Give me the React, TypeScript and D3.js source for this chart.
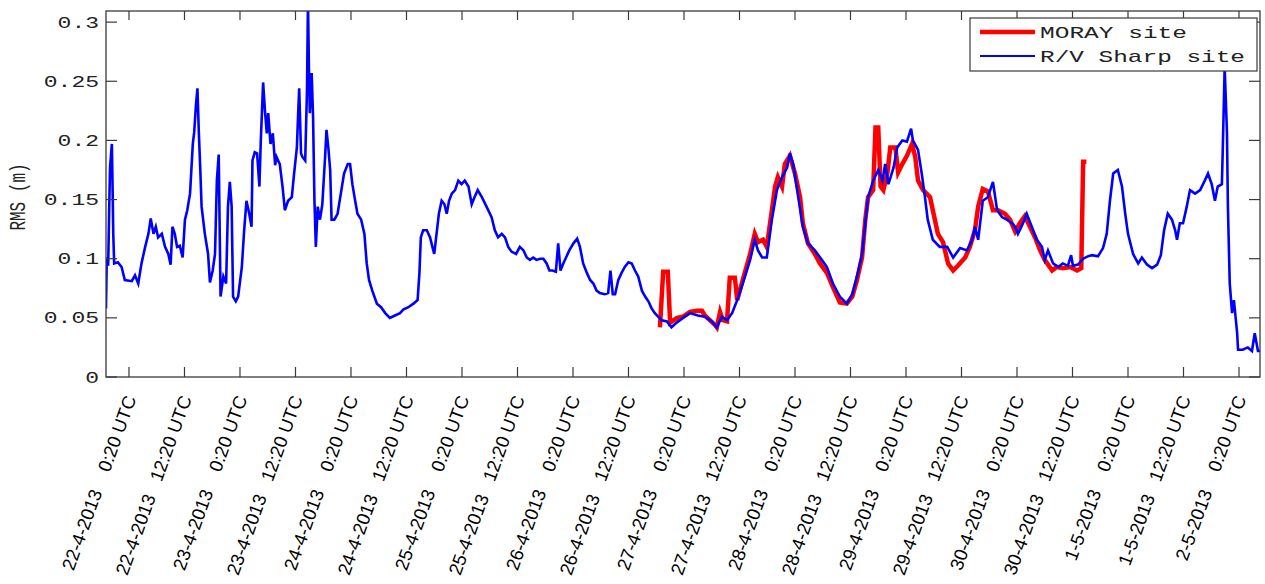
import React from "react";
import * as d3 from "d3";

// Hours relative to 22-4-2013 0:20 UTC
const sharpHours = [
  -4.97, -4.8, -4.5, -4.3, -4.1, -3.7, -3.5, -3.4, -3.2, -2.4, -1.6, -0.9, 0.6, 1.3, 2.0, 2.7, 3.5, 4.2, 4.7, 5.3,
  5.8, 6.3, 7.1, 7.8, 8.5, 9.0, 9.4, 9.9, 10.4, 11.0, 11.6, 12.1, 12.6, 13.2, 13.8, 14.1, 14.5, 14.8, 15.1, 15.4,
  15.7, 16.4, 17.1, 17.5, 18.1, 18.6, 19.0, 19.4, 19.8, 20.4, 21.0, 21.4, 21.8, 22.2, 22.5, 23.1, 23.6, 24.4, 24.9, 25.4,
  26.0, 26.5, 26.7, 27.2, 27.7, 28.2, 28.5, 29.0, 29.4, 29.8, 30.1, 30.6, 31.1, 31.6, 31.9, 32.6, 33.2, 33.7, 34.4, 35.2,
  35.7, 36.3, 36.6, 36.8, 37.2, 37.5, 38.1, 38.5, 38.7, 38.9, 39.1, 39.5, 39.8, 40.1, 40.4, 40.8, 41.3, 41.8, 42.4, 42.7,
  43.1, 43.5, 43.8, 44.4, 45.1, 45.8, 46.5, 47.3, 47.8, 48.3, 48.9, 49.4, 50.2, 50.9, 51.4, 51.9, 52.6, 53.6, 54.5, 55.4,
  56.4, 57.5, 58.6, 59.3, 60.4, 61.5, 62.4, 62.8, 63.1, 63.6, 64.4, 65.1, 65.6, 66.0, 66.5, 67.0, 67.6, 68.2, 68.7, 69.2,
  69.8, 70.5, 71.2, 71.9, 72.6, 73.4, 74.1, 74.7, 75.4, 76.3, 77.3, 78.4, 79.1, 79.8, 80.6, 81.3, 82.0, 82.7, 83.7, 84.5,
  85.3, 86.0, 86.7, 87.4, 88.1, 88.9, 89.6, 90.3, 90.9, 91.6, 92.3, 92.8, 93.3, 93.9, 94.5, 95.2, 96.1, 96.9, 97.5, 98.2,
  99.0, 99.7, 100.4, 101.1, 101.8, 102.9, 103.6, 104.1, 104.6, 105.1, 105.8, 106.5, 107.2, 108.0, 108.7, 109.4, 110.1, 110.9, 111.6, 112.3,
  113.0, 113.7, 114.4, 115.2, 116.3, 117.3, 118.4, 119.8, 121.3, 123.0, 124.5, 126.0, 127.1, 128.2, 129.3, 130.4, 131.5, 132.7, 134.3, 135.3,
  136.0, 136.9, 137.9, 139.0, 140.1, 141.2, 142.3, 142.9, 143.6, 144.7, 145.7, 146.8, 148.3, 149.8, 150.9, 152.2, 153.7, 155.2, 156.4, 157.4,
  158.5, 159.2, 159.8, 160.9, 162.0, 162.9, 163.5, 164.2, 165.3, 166.1, 167.2, 168.2, 169.1, 169.5, 170.6, 171.4, 172.1, 172.7, 173.8, 175.3,
  176.9, 178.2, 179.7, 181.2, 182.3, 182.9, 183.6, 184.6, 185.7, 186.8, 187.7, 188.8, 189.8, 190.9, 191.6, 192.2, 193.3, 194.1, 195.2, 196.3,
  197.4, 198.0, 198.7, 199.8, 200.9, 201.9, 203.0, 203.7, 204.1, 205.2, 206.3, 207.3, 208.2, 209.5, 210.6, 211.4, 212.1, 212.8, 213.8, 214.7,
  215.4, 216.0, 217.1, 218.2, 219.0, 220.1, 221.2, 222.3, 223.1, 223.8, 224.6, 225.5, 226.2, 226.6, 227.2, 227.9, 228.7, 229.4, 230.5, 231.6,
  232.6, 233.3, 234.1, 234.8, 235.4, 236.3, 236.5, 236.9, 237.4, 237.6, 238.0, 238.5, 238.9, 239.6, 239.8, 240.8, 241.9, 242.8, 243.4, 244.1,
  244.7,
];
const sharpValues = [
  0.058, 0.101, 0.094, 0.138, 0.177, 0.197, 0.149, 0.121, 0.096, 0.097, 0.093, 0.082, 0.081, 0.086, 0.079, 0.096, 0.110, 0.121, 0.134, 0.121,
  0.127, 0.118, 0.121, 0.110, 0.104, 0.095, 0.127, 0.121, 0.110, 0.111, 0.101, 0.133, 0.141, 0.155, 0.197, 0.207, 0.231, 0.244, 0.207, 0.177,
  0.144, 0.121, 0.104, 0.080, 0.090, 0.104, 0.166, 0.188, 0.068, 0.085, 0.079, 0.144, 0.165, 0.144, 0.068, 0.064, 0.068, 0.093, 0.124, 0.149,
  0.138, 0.127, 0.183, 0.190, 0.189, 0.161, 0.200, 0.249, 0.225, 0.206, 0.223, 0.197, 0.206, 0.179, 0.186, 0.180, 0.161, 0.141, 0.149, 0.152,
  0.172, 0.194, 0.225, 0.244, 0.189, 0.186, 0.183, 0.245, 0.318, 0.262, 0.223, 0.257, 0.220, 0.149, 0.110, 0.144, 0.133, 0.146, 0.186, 0.209,
  0.194, 0.175, 0.133, 0.133, 0.138, 0.155, 0.172, 0.180, 0.180, 0.163, 0.149, 0.138, 0.133, 0.121, 0.096, 0.082, 0.073, 0.062, 0.059, 0.054,
  0.050, 0.052, 0.054, 0.057, 0.059, 0.062, 0.065, 0.088, 0.118, 0.124, 0.124, 0.118, 0.110, 0.104, 0.121, 0.138, 0.149, 0.146, 0.138, 0.149,
  0.155, 0.158, 0.166, 0.163, 0.166, 0.161, 0.146, 0.152, 0.158, 0.152, 0.144, 0.135, 0.124, 0.118, 0.121, 0.118, 0.110, 0.106, 0.104, 0.110,
  0.107, 0.101, 0.099, 0.101, 0.099, 0.100, 0.100, 0.096, 0.090, 0.090, 0.089, 0.113, 0.090, 0.096, 0.101, 0.107, 0.113, 0.117, 0.110, 0.096,
  0.088, 0.082, 0.079, 0.073, 0.071, 0.070, 0.071, 0.090, 0.070, 0.070, 0.082, 0.088, 0.093, 0.097, 0.096, 0.090, 0.085, 0.073, 0.068, 0.064,
  0.058, 0.054, 0.051, 0.048, 0.047, 0.042, 0.046, 0.050, 0.054, 0.052, 0.051, 0.047, 0.042, 0.051, 0.048, 0.054, 0.065, 0.079, 0.099, 0.116,
  0.107, 0.101, 0.101, 0.133, 0.158, 0.169, 0.177, 0.189, 0.180, 0.152, 0.127, 0.113, 0.107, 0.099, 0.093, 0.079, 0.068, 0.062, 0.070, 0.085,
  0.104, 0.130, 0.152, 0.166, 0.175, 0.166, 0.180, 0.163, 0.177, 0.194, 0.200, 0.199, 0.210, 0.200, 0.192, 0.172, 0.152, 0.133, 0.116, 0.110,
  0.110, 0.101, 0.109, 0.107, 0.116, 0.127, 0.116, 0.149, 0.152, 0.165, 0.141, 0.135, 0.133, 0.130, 0.127, 0.121, 0.130, 0.138, 0.127, 0.116,
  0.110, 0.099, 0.107, 0.096, 0.093, 0.096, 0.094, 0.103, 0.094, 0.095, 0.100, 0.102, 0.103, 0.102, 0.109, 0.121, 0.149, 0.172, 0.175, 0.161,
  0.138, 0.121, 0.104, 0.096, 0.101, 0.095, 0.092, 0.095, 0.103, 0.124, 0.138, 0.133, 0.124, 0.116, 0.130, 0.130, 0.144, 0.158, 0.155, 0.158,
  0.166, 0.172, 0.163, 0.149, 0.161, 0.163, 0.194, 0.262, 0.206, 0.144, 0.079, 0.054, 0.065, 0.037, 0.023, 0.023, 0.025, 0.022, 0.037, 0.022,
  0.022,
];

const morayHours = [
  114.8, 115.5, 116.5, 117.0, 118.5, 119.8, 121.3, 122.8, 123.9, 124.5, 125.6, 126.7, 127.1, 127.8, 128.4, 129.3, 129.9, 131.0, 131.5, 132.7,
  134.3, 135.3, 136.0, 137.1, 137.9, 139.0, 139.7, 140.3, 141.2, 141.8, 142.9, 144.0, 145.1, 145.7, 146.8, 148.3, 149.4, 150.9, 152.2, 153.7,
  155.2, 156.4, 157.4, 158.5, 159.2, 159.8, 160.9, 161.4, 162.0, 162.5, 163.1, 164.0, 164.6, 165.7, 166.3, 167.2, 168.2, 169.3, 170.0, 170.6,
  171.7, 173.2, 173.8, 174.9, 176.0, 177.1, 178.2, 179.2, 180.8, 181.8, 182.9, 183.6, 184.6, 185.7, 186.8, 187.9, 189.4, 190.5, 191.6, 192.6,
  193.7, 194.8, 195.9, 197.0, 198.0, 199.6, 200.6, 201.9, 203.5, 205.0, 205.9, 206.3, 207.0,
];
const morayValues = [
  0.042, 0.089, 0.089, 0.046, 0.050, 0.051, 0.055, 0.056, 0.056, 0.052, 0.048, 0.044, 0.042, 0.055, 0.048, 0.047, 0.084, 0.084, 0.065, 0.082,
  0.104, 0.121, 0.114, 0.116, 0.110, 0.141, 0.161, 0.169, 0.161, 0.180, 0.187, 0.172, 0.152, 0.130, 0.113, 0.104, 0.096, 0.088, 0.076, 0.063,
  0.062, 0.068, 0.082, 0.101, 0.133, 0.152, 0.158, 0.211, 0.211, 0.161, 0.158, 0.173, 0.194, 0.194, 0.173, 0.180, 0.187, 0.197, 0.186, 0.166,
  0.158, 0.152, 0.141, 0.121, 0.114, 0.096, 0.090, 0.094, 0.101, 0.110, 0.124, 0.144, 0.159, 0.157, 0.141, 0.141, 0.138, 0.133, 0.123, 0.130,
  0.136, 0.127, 0.118, 0.107, 0.099, 0.090, 0.093, 0.092, 0.093, 0.090, 0.092, 0.182, 0.182,
];

const tickHours = [0, 12, 24, 36, 48, 60, 72, 84, 96, 108, 120, 132, 144, 156, 168, 180, 192, 204, 216, 228, 240];
const tickDates = [
  "22-4-2013", "22-4-2013", "23-4-2013", "23-4-2013", "24-4-2013", "24-4-2013", "25-4-2013", "25-4-2013",
  "26-4-2013", "26-4-2013", "27-4-2013", "27-4-2013", "28-4-2013", "28-4-2013", "29-4-2013", "29-4-2013",
  "30-4-2013", "30-4-2013", "1-5-2013", "1-5-2013", "2-5-2013",
];
const tickTimes = tickHours.map((h, i) => (i % 2 === 0 ? " 0:20 UTC" : "12:20 UTC"));

const yTicks = [0, 0.05, 0.1, 0.15, 0.2, 0.25, 0.3];
const yTickLabels = ["0", "0.05", "0.1", "0.15", "0.2", "0.25", "0.3"];

const seriesNames = ["MORAY site", "R/V Sharp site"];

export default function App() {
  const W = 1265, H = 584;
  const left = 106, right = 1260, top = 11, bottom = 377;
  const x = d3.scaleLinear().domain([-4.97, 244.54]).range([left, right]);
  const y = d3.scaleLinear().domain([0, 0.3094]).range([bottom, top]);
  const line = d3.line<[number, number]>().x((d) => x(d[0])).y((d) => y(d[1]));
  const sharp = line(sharpHours.map((h, i) => [h, sharpValues[i]] as [number, number])) || "";
  const moray = line(morayHours.map((h, i) => [h, morayValues[i]] as [number, number])) || "";
  const axisColor = "#3a3a3a";
  const mono = "'Liberation Mono', 'DejaVu Sans Mono', monospace";
  const sans = "'Liberation Sans', Arial, sans-serif";

  return (
    <svg width={W} height={H} style={{ position: "absolute", left: 0, top: 0, background: "#fff" }}>
      <defs>
        <clipPath id="plotclip">
          <rect x={left} y={top} width={right - left} height={bottom - top} />
        </clipPath>
      </defs>
      <rect x={0} y={0} width={W} height={H} fill="#fff" />
      <g clipPath="url(#plotclip)">
        <path d={moray} fill="none" stroke="#ff0000" strokeWidth={4.5} strokeLinejoin="miter" />
        <path d={sharp} fill="none" stroke="#0000ff" strokeWidth={2.6} strokeLinejoin="miter" />
      </g>
      {/* frame */}
      <rect x={left} y={top} width={right - left} height={bottom - top} fill="none" stroke={axisColor} strokeWidth={1.3} />
      {/* x ticks */}
      {tickHours.map((h, i) => (
        <g key={"xt" + i}>
          <line x1={x(h)} x2={x(h)} y1={bottom} y2={bottom - 10} stroke={axisColor} strokeWidth={1.2} />
          <line x1={x(h)} x2={x(h)} y1={top} y2={top + 9} stroke={axisColor} strokeWidth={1.2} />
        </g>
      ))}
      {/* y ticks */}
      {yTicks.map((v, i) => (
        <g key={"yt" + i}>
          <line x1={left} x2={left + 11} y1={y(v)} y2={y(v)} stroke={axisColor} strokeWidth={1.2} />
          <line x1={right} x2={right - 11} y1={y(v)} y2={y(v)} stroke={axisColor} strokeWidth={1.2} />
          <text
            x={99}
            y={y(v)}
            dy="0.35em"
            textAnchor="end"
            fontFamily={mono}
            fontSize={16}
            fill="#222"
            textLength={yTickLabels[i].length * 13.8}
            lengthAdjust="spacingAndGlyphs"
          >
            {yTickLabels[i]}
          </text>
        </g>
      ))}
      {/* x tick labels */}
      {tickHours.map((h, i) => (
        <text
          key={"xl" + i}
          transform={`translate(${x(h) - 5},${394}) rotate(-70)`}
          textAnchor="end"
          dy="0.72em"
          fontFamily={sans}
          fontSize={18.5}
          fill="#000"
          style={{ whiteSpace: "pre" }}
        >
          {tickDates[i] + "   " + tickTimes[i]}
        </text>
      ))}
      {/* y label */}
      <text
        transform={`translate(25,197) scale(1.4,1) rotate(-90)`}
        textAnchor="middle"
        fontFamily={mono}
        fontSize={16}
        fill="#222"
      >
        RMS (m)
      </text>
      {/* legend */}
      <g>
        <rect x={970} y={18} width={287} height={53} fill="#fff" stroke={axisColor} strokeWidth={1.2} />
        <line x1={980} x2={1035} y1={32} y2={32} stroke="#ff0000" strokeWidth={4.5} />
        <line x1={980} x2={1035} y1={56} y2={56} stroke="#0000ff" strokeWidth={2.2} />
        <text x={1040} y={38} fontFamily={mono} fontSize={17} fill="#222" textLength={147} lengthAdjust="spacingAndGlyphs">
          {seriesNames[0]}
        </text>
        <text x={1040} y={62} fontFamily={mono} fontSize={17} fill="#222" textLength={205} lengthAdjust="spacingAndGlyphs">
          {seriesNames[1]}
        </text>
      </g>
    </svg>
  );
}
